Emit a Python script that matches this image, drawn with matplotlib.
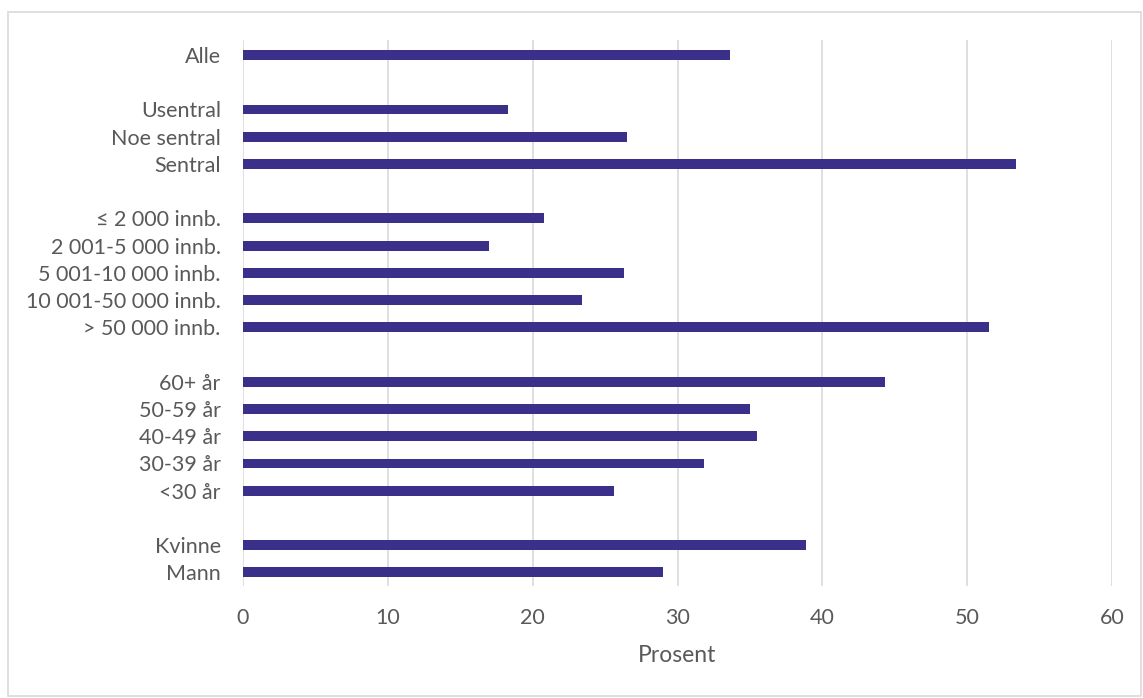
import matplotlib
matplotlib.use("Agg")
import matplotlib.pyplot as plt
from matplotlib.patches import Rectangle

plt.rcParams['font.family'] = ['Lato', 'DejaVu Sans']

# empty strings are the spacer rows between groups
labels = ["Alle", "",
          "Usentral", "Noe sentral", "Sentral", "",
          "≤ 2 000 innb.", "2 001-5 000 innb.", "5 001-10 000 innb.",
          "10 001-50 000 innb.", "> 50 000 innb.", "",
          "60+ år", "50-59 år", "40-49 år", "30-39 år", "<30 år", "",
          "Kvinne", "Mann"]
values = [33.6, None,
          18.3, 26.5, 53.4, None,
          20.8, 17.0, 26.3, 23.4, 51.5, None,
          44.3, 35.0, 35.5, 31.8, 25.6, None,
          38.9, 29.0]

bar_color = '#3B3089'
text_color = '#595959'

fig = plt.figure(figsize=(11.43, 6.98), dpi=100)
ax = fig.add_axes([243/1143, 1 - 586/698, (1112 - 243)/1143, (586 - 40)/698])

ypos = list(range(len(labels)))
xs = [v if v is not None else 0 for v in values]
ax.barh(ypos, xs, height=0.36, color=bar_color, zorder=3)

ax.set_ylim(len(labels) - 0.5, -0.55)
ax.set_xlim(0, 60)
ax.set_xticks(range(0, 61, 10))
ax.set_yticks(ypos)
ax.set_yticklabels(labels)

ax.grid(axis='x', color='#D9D9D9', linewidth=1.2, zorder=0)
for s in ax.spines.values():
    s.set_visible(False)
ax.tick_params(axis='both', length=0, labelsize=15.5, colors=text_color)
ax.tick_params(axis='x', pad=16)
ax.tick_params(axis='y', pad=16)
ax.set_xlabel("Prosent", fontsize=16.5, color=text_color, labelpad=12)

# light frame around the whole chart
fig.patches.append(Rectangle((8/1143, 2/698), 1 - 10/1143, 1 - 14/698,
                             transform=fig.transFigure, fill=False,
                             edgecolor='#D9D9D9', linewidth=1.2))

fig.savefig("out.png", dpi=100)
